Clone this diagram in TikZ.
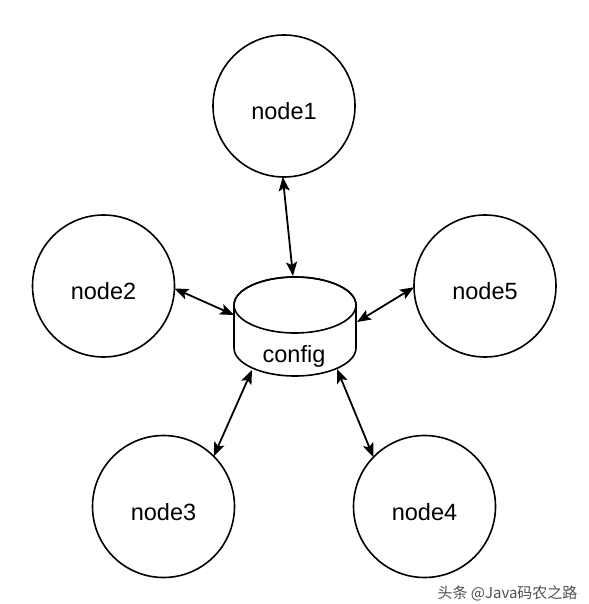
\documentclass[tikz,border=0pt]{standalone}
\usepackage{fontspec}
\setmainfont{Liberation Sans}
\newfontfamily\cjk{Noto Sans CJK SC}
\usetikzlibrary{arrows.meta}
\tikzset{
  peer/.style={circle, draw, line width=1.6pt, minimum size=142pt, inner sep=0pt, outer sep=0pt,
    font=\fontsize{23.5}{28}\selectfont, text height=27pt, text depth=0pt},
  store/.style={rectangle, draw=none, minimum width=122pt, minimum height=99pt, inner sep=0pt, outer sep=0pt},
  storeline/.style={line width=1.6pt},
  link/.style={line width=1.8pt, {Stealth[length=14pt,width=11pt,inset=3pt]}-{Stealth[length=14pt,width=11pt,inset=3pt]}}
}
\begin{document}
\begin{tikzpicture}[x=1pt,y=-1pt]
\useasboundingbox[fill=white] (0,0) rectangle (588,604);
\node[peer] (n1) at (284,106) {node1};
\node[peer] (n2) at (103.5,286) {node2};
\node[peer] (n5) at (485,286) {node5};
\node[peer] (n3) at (163.5,506.5) {node3};
\node[peer] (n4) at (424.5,506.5) {node4};
\node[store] (cfg) at (295,326.5) {};
\draw[storeline, fill=white] ([shift={(-61,-21.5)}]cfg.center) -- ++(0,43)
  arc[start angle=180, end angle=360, x radius=61pt, y radius=28pt] -- ++(0,-43)
  arc[start angle=0, end angle=180, x radius=61pt, y radius=28pt] -- cycle;
\draw[storeline] ([shift={(0,-21.5)}]cfg.center) ellipse [x radius=61pt, y radius=28pt];
\node[anchor=base, font=\fontsize{23.5}{28}\selectfont] (cfgtext) at (294,362.5) {config};
\draw[link] (n1.269) -- ([shift={(-2,-50.5)}]cfg.center);
\draw[link] (n2.358) -- ([shift={(-61,-11.5)}]cfg.center);
\draw[link] (n5.181) -- ([shift={(62,-4.5)}]cfg.center);
\draw[link] (n3.45) -- ([shift={(-43,43.5)}]cfg.center);
\draw[link] (n4.136) -- ([shift={(42,42.5)}]cfg.center);
\node[anchor=east, text={rgb,255:red,80;green,80;blue,80}, font=\cjk\fontsize{15}{18}\selectfont] (wm) at (581,593) {头条 @Java码农之路};
\end{tikzpicture}
\end{document}
